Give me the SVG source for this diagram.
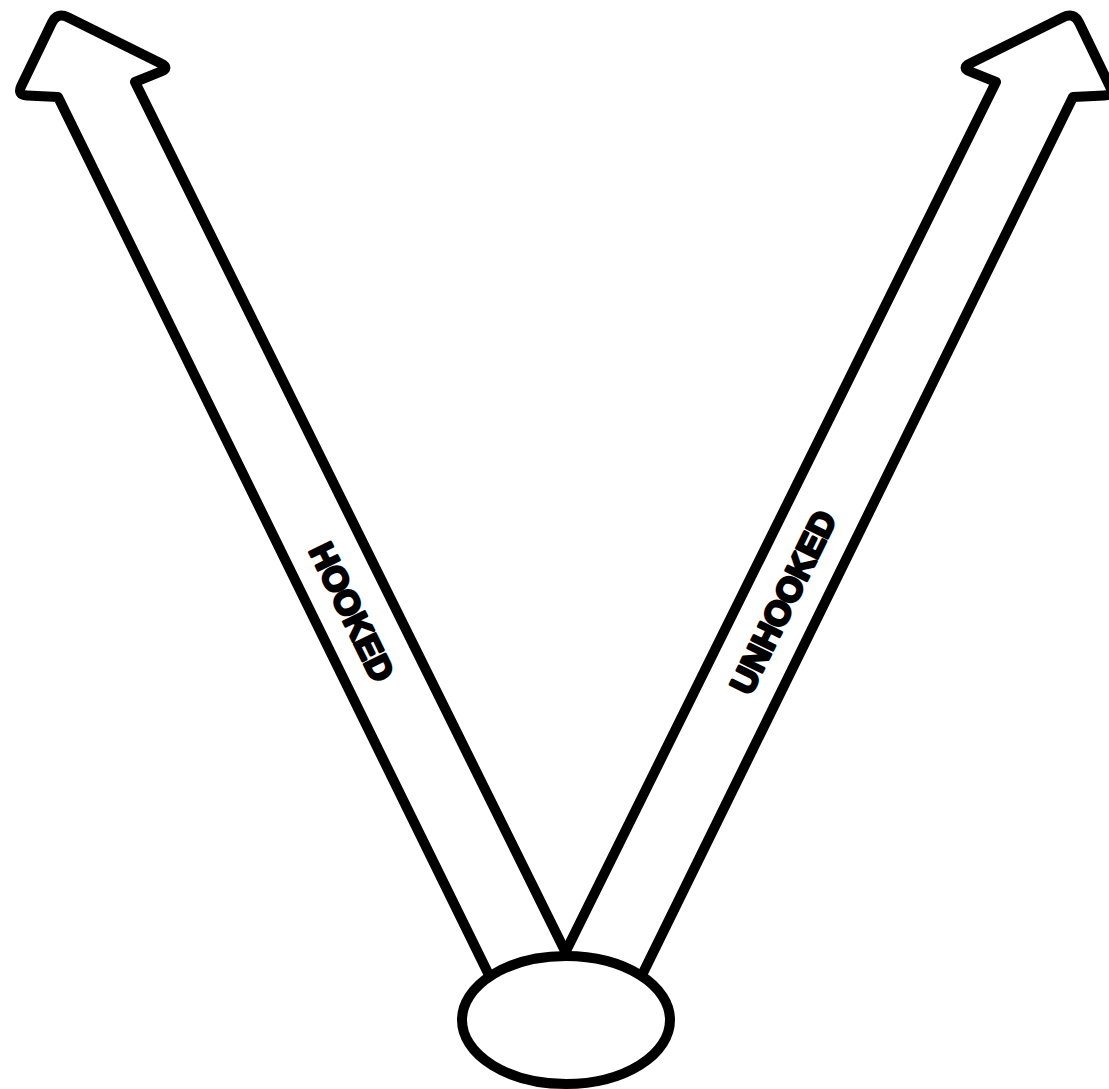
<svg xmlns="http://www.w3.org/2000/svg" width="1109" height="1089" viewBox="0 0 1109 1089">
<style>
.shape{fill:#fff;stroke:#000;stroke-width:10;stroke-linejoin:round;stroke-linecap:round}
.lbl{font-family:"Liberation Sans",Arial,sans-serif;font-weight:700;font-size:34px;fill:#000;stroke:#000;stroke-width:3;stroke-linejoin:round}
</style>
<rect width="1109" height="1089" fill="#fff"/>
<g id="connectors">
<g id="arrow-hooked">
<path class="shape" d="M501,1000 L488,973 L58,97 L27,95.5 Q17,95 21.3,86 L51.8,22.8 Q57,12 67.8,17.3 L161,63.6 Q170,68 160.7,71.7 L135,82 L566,953 L589,1000 Z"/>
<text class="lbl" x="352" y="612" text-anchor="middle" dominant-baseline="central" transform="rotate(64 352 612)">HOOKED</text>
</g>
<g id="arrow-unhooked">
<path class="shape" d="M630,1000 L643,973 L1073,97 L1104,95.5 Q1114,95 1109.7,86 L1079.2,22.8 Q1074,12 1063.2,17.3 L970,63.6 Q961,68 970.3,71.7 L996,82 L565,953 L542,1000 Z"/>
<text class="lbl" x="783" y="602" text-anchor="middle" dominant-baseline="central" transform="rotate(-64 783 602)">UNHOOKED</text>
</g>
</g>
<g id="node-origin">
<ellipse class="shape" cx="566" cy="1020" rx="104" ry="64"/>
</g>
</svg>
